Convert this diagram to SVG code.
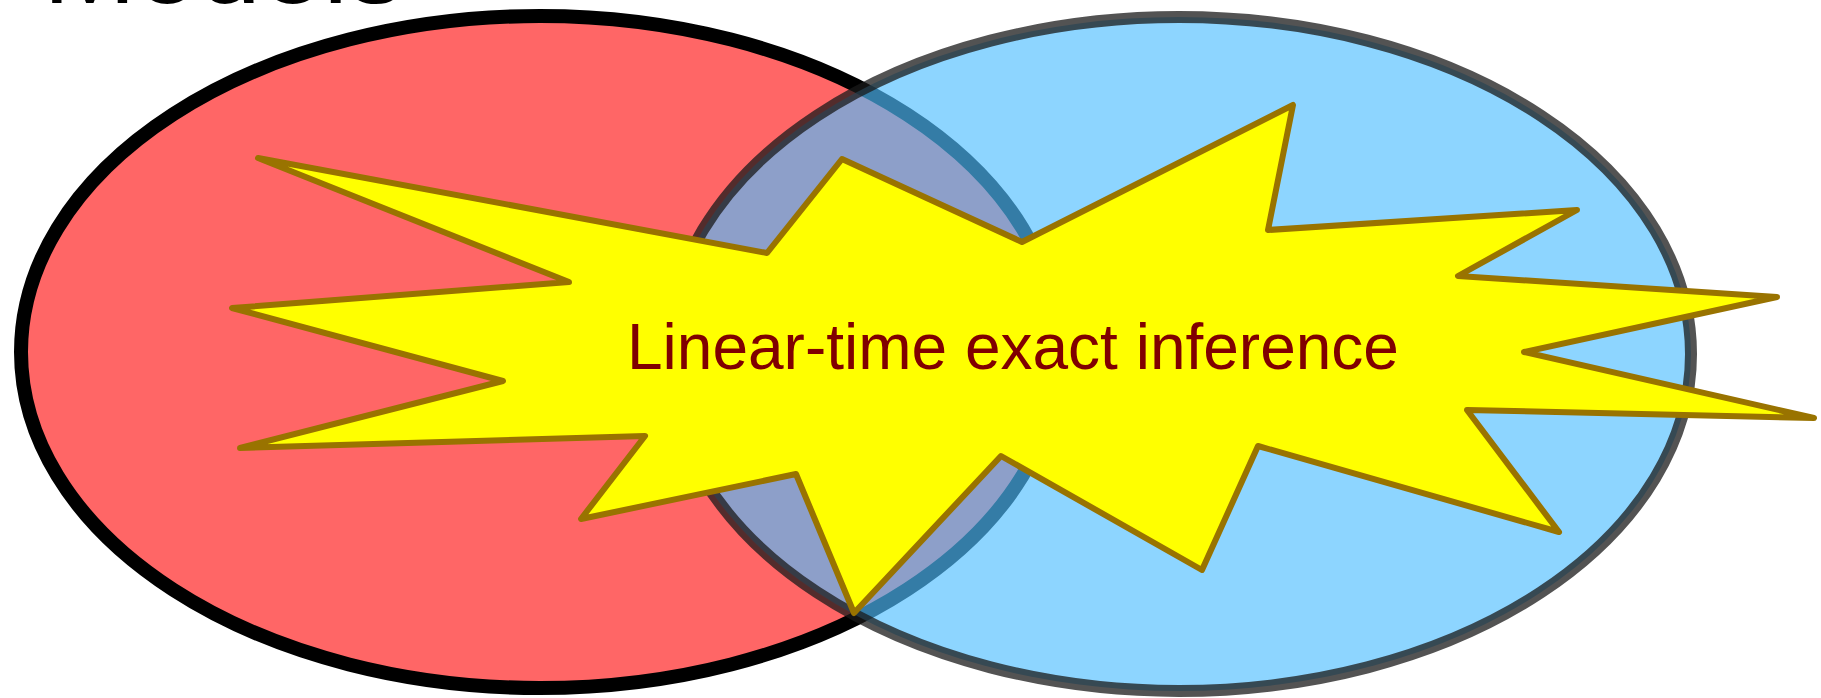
<svg xmlns="http://www.w3.org/2000/svg" width="1821" height="698" viewBox="0 0 1821 698">
  <style>
    .title { font-family: "Liberation Sans", Arial, sans-serif; font-size: 112px; fill: #000000; }
    .set-a { fill: #FF6666; stroke: #000000; stroke-width: 14; }
    .set-b { fill: #50BEFF; fill-opacity: 0.65; stroke: #1a1a1a; stroke-opacity: 0.75; stroke-width: 12; }
    .burst { fill: #FFFF00; stroke: #997300; stroke-width: 6; stroke-linejoin: round; }
    .burst-label { font-family: "Liberation Sans", Arial, sans-serif; font-size: 64px; fill: #800000; }
  </style>
  <rect width="1821" height="698" fill="#FFFFFF"/>

  <!-- slide title, mostly above the visible area -->
  <text class="title" x="43" y="3">Models</text>

  <!-- left set -->
  <g id="set-left">
    <ellipse class="set-a" cx="540" cy="352" rx="519" ry="336"/>
  </g>

  <!-- right set, translucent so the overlap shows through -->
  <g id="set-right">
    <ellipse class="set-b" cx="1179" cy="354" rx="512" ry="337"/>
  </g>

  <!-- explosion callout spanning both sets -->
  <g id="burst">
    <polygon class="burst" points="258,158 767,253 842,159 1022,242 1293,105 1268,230 1577,210 1458,276 1777,297 1524,352 1814,418 1467,410 1559,532 1258,446 1202,570 1001,456 854,613 796,474 581,519 645,436 240,448 503,381 232,308 569,282"/>
    <text class="burst-label" x="627" y="369">Linear-time exact inference</text>
  </g>
</svg>
